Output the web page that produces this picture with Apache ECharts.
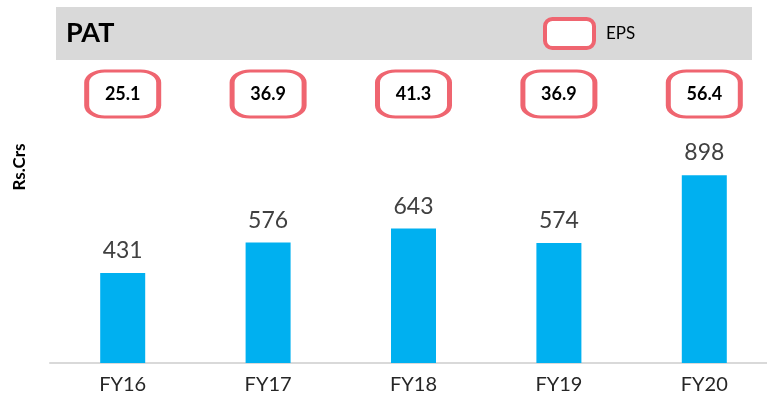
<!DOCTYPE html>
<html>
<head>
<meta charset="utf-8">
<script src="https://cdn.jsdelivr.net/npm/echarts@6/dist/echarts.min.js"></script>
<style>
  html, body { margin: 0; padding: 0; background: #fff; }
  #divChart { width: 767px; height: 403px; }
</style>
</head>
<body>
<div id="divChart"></div>
<script>
// PAT (Rs.Crs) and EPS by financial year
var arrYears = ['FY16', 'FY17', 'FY18', 'FY19', 'FY20'];
var arrPAT = [431, 576, 643, 574, 898];
var arrEPS = [25.1, 36.9, 41.3, 36.9, 56.4];

var strFont = 'Lato, "Open Sans", sans-serif';
var strPink = '#ef6570';

var arrEpsData = [];
for (var intI = 0; intI < arrYears.length; intI++) {
    arrEpsData.push([arrYears[intI], 'EPS', arrEPS[intI]]);
};

var chartPat = echarts.init(document.getElementById('divChart'));
var optPat = {
    animation: false,
    textStyle: { fontFamily: strFont },
    title: {
        text: 'PAT',
        left: 61,
        top: 15,
        textStyle: { fontSize: 27, fontWeight: 'bold', color: '#000', fontFamily: strFont }
    },
    graphic: [
        {
            type: 'rect',
            z: 0,
            shape: { x: 56, y: 7, width: 696, height: 53 },
            style: { fill: '#d9d9d9' }
        },
        {
            type: 'text',
            x: 20,
            y: 167,
            rotation: Math.PI / 2,
            style: {
                text: 'Rs.Crs',
                align: 'center',
                verticalAlign: 'middle',
                font: 'bold 17px ' + strFont,
                fill: '#000'
            }
        }
    ],
    legend: {
        data: [{ name: 'EPS', icon: 'roundRect' }],
        left: 543,
        top: 17,
        padding: 0,
        itemWidth: 49,
        itemHeight: 29,
        itemStyle: { color: '#fff', borderColor: strPink, borderWidth: 4 },
        textStyle: { fontSize: 17, color: '#000', padding: [0, 0, 0, 7], fontFamily: strFont }
    },
    grid: [
        { left: 50, width: 727, top: 154, bottom: 40, outerBoundsMode: 'none', containLabel: false },
        { left: 50, width: 727, top: 70, height: 48, outerBoundsMode: 'none', containLabel: false }
    ],
    xAxis: [
        {
            type: 'category',
            gridIndex: 0,
            data: arrYears,
            axisTick: { show: false },
            axisLine: { lineStyle: { color: '#d9d9d9', width: 2 } },
            axisLabel: { fontSize: 20, color: '#262626', margin: 12, fontFamily: strFont }
        },
        {
            type: 'category',
            gridIndex: 1,
            data: arrYears,
            show: false
        }
    ],
    yAxis: [
        {
            type: 'value',
            gridIndex: 0,
            min: 0,
            max: 1000,
            show: false,
            splitLine: { show: false }
        },
        {
            type: 'category',
            gridIndex: 1,
            data: ['EPS'],
            show: false
        }
    ],
    series: [
        {
            name: 'PAT',
            type: 'bar',
            xAxisIndex: 0,
            yAxisIndex: 0,
            data: arrPAT,
            barWidth: 45,
            itemStyle: { color: '#00b0f0' },
            label: {
                show: true,
                position: 'top',
                distance: 11,
                fontSize: 23,
                color: '#404040',
                fontFamily: strFont
            }
        },
        {
            name: 'EPS',
            type: 'scatter',
            xAxisIndex: 1,
            yAxisIndex: 1,
            data: arrEpsData,
            symbol: 'roundRect',
            symbolSize: [72, 46],
            itemStyle: { color: '#fff', borderColor: strPink, borderWidth: 4, opacity: 1 },
            label: {
                show: true,
                position: 'inside',
                formatter: function(p) { return p.value[2].toFixed(1); },
                fontSize: 18,
                fontWeight: 'bold',
                color: '#000',
                fontFamily: strFont
            }
        }
    ]
};
chartPat.setOption(optPat);
</script>
</body>
</html>
